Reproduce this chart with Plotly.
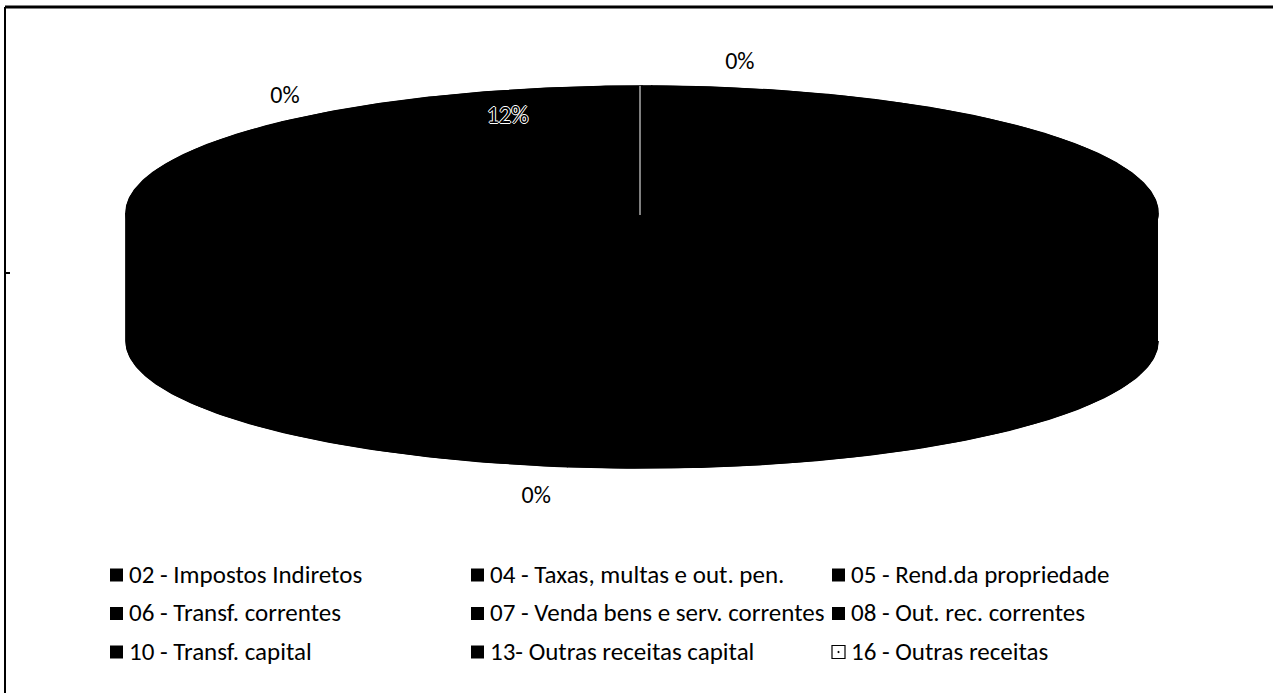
import numpy as np
import plotly.graph_objects as go

# Revenue headings and their share of the total (%)
categories = [
    "02 - Impostos Indiretos",
    "04 - Taxas, multas e out. pen.",
    "05 - Rend.da propriedade",
    "06 - Transf. correntes",
    "07 - Venda bens e serv. correntes",
    "08 - Out. rec. correntes",
    "10 - Transf. capital",
    "13- Outras receitas capital",
    "16 - Outras receitas",
]
shares = [0.3, 52.0, 0.4, 35.0, 0.3, 0.0, 12.0, 0.0, 0.0]
# which slices carry a visible percentage label, and where (outside / inside)
label_mode = ["out", None, "out", None, "out", None, "in", None, None]

# --- pie geometry (pixel space of the page) ---
CX, CY = 642.0, 213.0      # centre of the top face
RX, RY = 516.0, 127.0      # radii of the elliptical top face
DEPTH = 128.0              # thickness of the disc
FILL = "#000000"
FONT = "Carlito, Calibri, Lato, sans-serif"

# fine placement of each visible label, relative to its radial anchor
label_nudge = {0: (92, 2), 2: (-9, 5), 4: (71, -6), 6: (8, -7)}


def rim(theta, k=1.0, dz=0.0):
    return CX + RX * k * np.sin(theta), CY - RY * k * np.cos(theta) + dz


total = float(sum(shares))
ends = np.cumsum(shares) / total * 2 * np.pi
starts = np.concatenate([[0.0], ends[:-1]])

fig = go.Figure()

# solid silhouette of the whole disc, so slice seams do not show through
tt = np.linspace(np.pi / 2, 3 * np.pi / 2, 240)
bx, by = rim(tt, dz=DEPTH)
ux, uy = rim(np.linspace(3 * np.pi / 2, 5 * np.pi / 2, 240))
fig.add_trace(go.Scatter(
    x=np.concatenate([bx, ux]), y=np.concatenate([by, uy]),
    mode="lines", fill="toself", fillcolor=FILL,
    line=dict(color=FILL, width=1), hoverinfo="skip", showlegend=False))

# side wall (front half of the disc only)
for a0, a1 in zip(starts, ends):
    s, e = max(a0, np.pi / 2), min(a1, 3 * np.pi / 2)
    if e <= s:
        continue
    t = np.linspace(s, e, 120)
    xt, yt = rim(t)
    xb, yb = rim(t[::-1], dz=DEPTH)
    fig.add_trace(go.Scatter(
        x=np.concatenate([xt, xb]), y=np.concatenate([yt, yb]),
        mode="lines", fill="toself", fillcolor=FILL,
        line=dict(color=FILL, width=1.5), hoverinfo="skip", showlegend=False))

# top faces of the slices
for name, v, a0, a1 in zip(categories, shares, starts, ends):
    if a1 - a0 <= 0:
        continue
    t = np.linspace(a0, a1, max(4, int(360 * (a1 - a0) / np.pi)))
    xr, yr = rim(t)
    fig.add_trace(go.Scatter(
        x=np.concatenate([[CX], xr, [CX]]), y=np.concatenate([[CY], yr, [CY]]),
        mode="lines", fill="toself", fillcolor=FILL,
        line=dict(color=FILL, width=1.5), name=name,
        hovertemplate=f"{name}: {v / total * 100:.1f}%<extra></extra>",
        showlegend=False))

# seam at the start angle of the first slice
sx, sy = rim(0.0)
fig.add_trace(go.Scatter(x=[CX - 2, sx - 2], y=[CY + 2, sy], mode="lines",
                         line=dict(color="white", width=1),
                         hoverinfo="skip", showlegend=False))

# percentage labels
for i, (v, a0, a1, mode) in enumerate(zip(shares, starts, ends, label_mode)):
    if mode is None:
        continue
    mid = (a0 + a1) / 2
    pct = f"{round(v / total * 100):.0f}%"
    if mode == "out":
        k = 1.2
        dz = DEPTH if np.cos(mid) < 0 else 0.0
        color, shadow = "black", "none"
    else:
        k, dz = 0.75, 0.0
        color = "black"
        shadow = "1px 0 0 white, -1px 0 0 white, 0 1px 0 white, 0 -1px 0 white"
    lx, ly = rim(mid, k, dz)
    nx, ny = label_nudge.get(i, (0, 0))
    fig.add_trace(go.Scatter(
        x=[lx + nx], y=[ly + ny], mode="text", text=[pct],
        textposition="middle center",
        textfont=dict(family=FONT, size=24, color=color, shadow=shadow),
        hoverinfo="skip", showlegend=False))

# legend: three columns, three rows
LEG_X0, LEG_DX = 110, 361
LEG_Y0, LEG_DY = 574, 38.5
for i, name in enumerate(categories):
    row, col = divmod(i, 3)
    x = LEG_X0 + col * LEG_DX
    y = LEG_Y0 + row * LEG_DY
    last = i == len(categories) - 1
    fig.add_trace(go.Scatter(
        x=[x + 6.5], y=[y + 1], mode="markers",
        marker=dict(symbol="square-open-dot" if last else "square", size=13,
                    color="black", line=dict(color="black", width=1.2 if last else 0)),
        hoverinfo="skip", showlegend=False))
    fig.add_annotation(x=x + 17, y=y, text=name, showarrow=False,
                       xanchor="left", yanchor="middle",
                       font=dict(family=FONT, size=25, color="black"))

# chart frame (top and left edges)
fig.add_shape(type="line", x0=5, x1=1273, y0=7, y1=7,
              line=dict(color="black", width=3))
fig.add_shape(type="line", x0=5, x1=5, y0=7, y1=693,
              line=dict(color="black", width=2))
fig.add_shape(type="line", x0=5, x1=10, y0=273, y1=273,
              line=dict(color="black", width=2))

fig.update_xaxes(range=[0, 1273], visible=False, fixedrange=True)
fig.update_yaxes(range=[693, 0], visible=False, fixedrange=True)
fig.update_layout(
    width=1273, height=693, autosize=False,
    margin=dict(l=0, r=0, t=0, b=0),
    paper_bgcolor="white", plot_bgcolor="white",
    showlegend=False,
)

fig.write_html("out.html")
